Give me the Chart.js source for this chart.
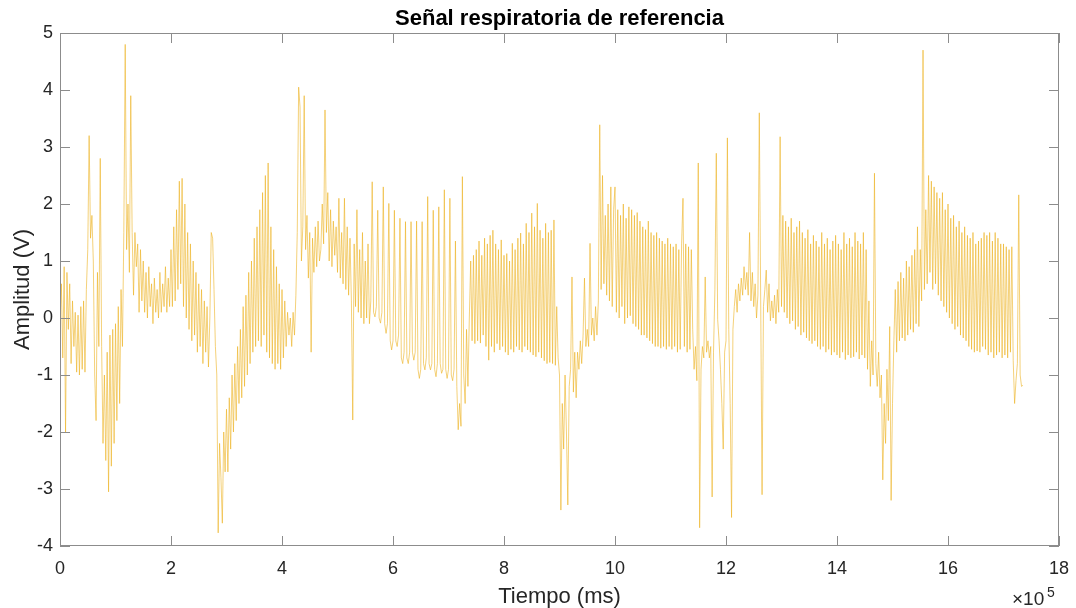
<!DOCTYPE html>
<html lang="es">
<head>
<meta charset="utf-8">
<title>Señal respiratoria de referencia</title>
<script src="https://cdn.jsdelivr.net/npm/chart.js@4.4.1/dist/chart.umd.min.js"></script>
<style>
  html, body { margin: 0; padding: 0; background: #ffffff; }
  canvas { display: block; }
</style>
</head>
<body>
<canvas id="senal" width="1076" height="608"></canvas>
<script>
// Periodo de muestreo de la señal (ms)
const periodoMuestreo = 2500;

// Amplitud (V), una fila = 20 muestras = 0.5 x 10^5 ms
const amplitud = [
  -0.1, 0.6, -0.7, 0.9, -2.0, 0.8, -0.2, 0.6, -0.8, 0.3, -0.5, 0.1, -0.95, 0.05, -1.0, 0.2, -0.9, 0.3, -0.95, 0.5,
  1.2, 3.2, 1.4, 1.8, 1.0, -1.0, -1.8, 0.8, -0.5, 2.8, -0.5, -2.2, -1.0, -2.5, -0.6, -3.05, -0.3, -2.6, -0.2, -2.2,
  -0.1, -1.8, 0.2, -1.5, 0.5, -0.5, 1.5, 4.8, 1.2, 2.0, 0.8, 3.9, 1.5, 0.4, 1.5, 0.9, 1.3, 0.1, 1.2, 0.3,
  1.0, 0.1, 0.8, 0.0, 0.9, 0.2, 0.6, -0.1, 0.7, 0.1, 0.5, 0.0, 0.8, 0.1, 0.6, 0.2, 0.9, 0.1, 0.7, 0.2,
  1.2, 0.2, 1.6, 0.3, 1.9, 0.5, 2.4, 0.6, 2.45, 0.2, 2.0, 0.0, 1.5, -0.2, 1.3, -0.4, 1.0, -0.3, 0.8, -0.6,
  0.6, -0.5, 0.5, -0.8, 0.3, -0.6, 0.2, -0.86, 0.0, 1.5, 1.4, 0.5, -0.5, -1.0, -3.77, -2.2, -2.8, -3.6, -2.0, -2.7,
  -1.6, -2.7, -1.4, -2.3, -1.0, -2.0, -0.8, -1.8, -0.5, -1.5, -0.2, -1.4, 0.2, -1.2, 0.4, -1.0, 0.8, -0.8, 1.0, -0.6,
  1.4, -0.5, 1.6, -0.4, 1.9, -0.5, 2.2, -0.3, 2.5, -0.6, 2.72, -0.7, 1.6, -0.8, 1.2, -0.9, 0.9, -0.8, 0.6, -0.9,
  0.5, -0.7, 0.3, -0.5, 0.1, -0.3, 0.0, -0.5, 0.1, -0.3, 0.4, 1.5, 4.05, 3.7, 1.0, 1.6, 3.9, 1.2, 1.8, 0.7,
  1.5, -0.6, 1.4, 0.8, 1.6, 0.9, 1.7, 1.0, 1.2, 2.0, 1.3, 3.65, 1.5, 2.2, 1.0, 1.9, 0.9, 1.7, 1.1, 1.6,
  0.8, 2.1, 0.7, 1.5, 0.6, 2.1, 0.5, 1.6, 0.4, 1.4, 0.3, -1.79, 1.3, 0.2, 1.9, 0.1, 1.2, 0.0, 1.5, -0.1,
  1.0, 0.0, 1.3, -0.1, 0.3, 2.39, 0.1, 0.02, 0.2, 1.89, 0.0, -0.09, 0.1, 2.30, -0.1, -0.27, -0.1, 2.01, -0.4, -0.56,
  -0.4, 1.89, -0.4, -0.50, -0.3, 1.75, -0.7, -0.80, -0.6, 1.69, -0.7, -0.80, -0.6, 1.69, -0.6, -0.74, -0.6, 1.70, -0.9, -1.06,
  -0.9, 1.69, -0.8, -0.91, -0.7, 2.13, -0.8, -0.91, -0.8, 1.89, -0.9, -1.03, -0.8, 1.95, -0.8, -0.97, -0.9, 2.25, -0.9, -1.06,
  -0.9, 2.1, -1.0, -1.1, -0.9, 1.35, -1.2, -1.96, -1.5, -1.9, 2.48, -1.0, -1.5, -0.2, -1.2, 0.0, 1.0, -0.4, 1.1, -0.45,
  1.2, -0.4, 1.35, -0.44, 1.1, -0.3, 1.4, -0.5, 1.3, -0.74, 1.45, -0.5, 1.54, -0.6, 1.3, -0.45, 1.2, -0.56, 1.37, -0.5,
  1.1, -0.6, 1.13, -0.65, 1.0, -0.55, 1.31, -0.6, 1.2, -0.5, 1.4, -0.56, 1.49, -0.6, 1.3, -0.5, 1.66, -0.56, 1.5, -0.6,
  1.84, -0.65, 1.6, -0.68, 2.01, -0.6, 1.54, -0.7, 1.4, -0.75, 1.66, -0.8, 1.5, -0.78, 1.54, -0.8, 1.72, -0.83, 0.2, -0.7,
  -1.0, -3.37, -1.5, -2.3, -1.0, -2.0, -3.28, -1.2, -0.9, 0.72, -1.3, -0.6, -1.4, -0.6, -0.9, -0.4, -0.8, -0.3, 0.7, -0.5,
  -0.2, -0.5, 1.31, -0.3, 0.0, -0.4, 0.2, -0.3, 0.3, 3.39, 0.5, 2.5, 0.6, 1.8, 0.4, 2.0, 0.3, 2.3, 0.2, 1.9,
  2.3, 0.1, 1.9, 0.0, 1.8, 0.2, 2.0, -0.1, 1.75, 0.0, 1.95, 0.04, 1.9, -0.1, 1.8, -0.15, 1.85, -0.2, 1.7, -0.3,
  1.6, -0.3, 1.55, -0.35, 1.7, -0.4, 1.5, -0.45, 1.45, -0.5, 1.5, -0.5, 1.4, -0.53, 1.35, -0.5, 1.3, -0.55, 1.4, -0.5,
  1.3, -0.55, 1.25, -0.5, 1.3, -0.6, 1.2, -0.55, 1.3, 2.1, -0.5, 1.3, -0.6, 1.25, -0.55, 1.2, -0.2, -0.9, -0.5, -1.1,
  2.72, -3.68, -0.9, -0.5, -0.7, 0.72, -0.6, -0.4, -0.7, -0.5, -3.14, -0.6, 0.5, 2.89, -0.03, -0.4, -0.9, -1.5, -2.3, -0.6,
  -0.4, 3.16, -0.2, -1.5, -3.5, -0.2, 0.2, 0.5, 0.1, 0.6, 0.3, 0.7, 0.4, 0.9, 0.5, 0.8, 0.4, 1.5, 0.3, 0.8,
  0.2, 0.6, 0.0, 0.4, 3.6, 0.3, -3.1, 0.2, 0.5, 0.84, 0.1, 0.6, -0.05, 0.3, 0.0, 0.4, -0.1, 0.5, 0.1, 3.18,
  0.2, 1.8, 0.1, 1.7, 0.0, 1.6, -0.1, 1.75, -0.05, 1.5, -0.2, 1.6, -0.15, 1.7, -0.3, 1.5, -0.25, 1.4, -0.35, 1.55,
  -0.4, 1.3, -0.45, 1.45, -0.4, 1.35, -0.5, 1.25, -0.55, 1.5, -0.5, 1.3, -0.6, 1.4, -0.55, 1.2, -0.65, 1.35, -0.6, 1.45,
  -0.65, 1.3, -0.7, 1.2, -0.6, 1.5, -0.73, 1.3, -0.65, 1.4, -0.7, 1.25, -0.68, 1.5, -0.6, 1.35, -0.72, 1.3, -0.65, 1.5,
  -0.7, 1.2, -0.9, 0.3, -1.2, -0.4, -1.0, 2.54, -0.8, -1.2, -0.6, -1.4, -1.0, -2.84, -1.5, -2.2, -0.9, -1.8, -0.15, -3.2,
  -1.5, -0.4, 0.5, -0.6, 0.64, -0.4, 0.8, -0.35, 0.7, -0.4, 1.0, -0.3, 0.9, -0.2, 1.1, -0.25, 1.2, -0.1, 1.6, -0.15,
  1.2, 0.3, 4.70, 0.5, 1.9, 0.6, 2.5, 0.8, 2.4, 0.5, 2.3, 0.6, 2.2, 0.4, 2.1, 0.3, 2.2, 0.2, 1.9, 0.1,
  2.0, 0.0, 1.75, -0.1, 1.8, -0.2, 1.6, -0.15, 1.7, -0.3, 1.5, -0.35, 1.6, -0.4, 1.45, -0.5, 1.4, -0.55, 1.5, -0.6,
  1.3, -0.58, 1.35, -0.6, 1.4, -0.5, 1.5, -0.55, 1.45, -0.65, 1.5, -0.6, 1.35, -0.7, 1.5, -0.65, 1.4, -0.6, 1.3, -0.7,
  1.3, -0.65, 1.25, -0.7, 1.2, -0.6, 1.25, -0.75, -1.5, -1.1, -0.8, 2.16, -1.0, -1.2, -1.18
];

// Marcas de los ejes
const ticksX = [0, 200000, 400000, 600000, 800000, 1000000, 1200000, 1400000, 1600000, 1800000];
const ticksY = [-4, -3, -2, -1, 0, 1, 2, 3, 4, 5];

const titulo = 'Señal respiratoria de referencia';
const etiquetaX = 'Tiempo (ms)';
const etiquetaY = 'Amplitud (V)';

const colorSenal = '#EDB120';
const colorTexto = '#262626';
const colorEje = '#8c8c8c';
const fuente = 'Arial, "Liberation Sans", Helvetica, sans-serif';

const puntos = amplitud.map((v, i) => ({ x: i * periodoMuestreo, y: v }));

// Caja, marcas hacia dentro, título y etiquetas de los ejes
const marcoEjes = {
    id: 'marcoEjes',
    afterDraw(chart) {
        const { ctx, chartArea: a, scales } = chart;
        const largo = 10;
        ctx.save();
        ctx.strokeStyle = colorEje;
        ctx.lineWidth = 1;
        ctx.strokeRect(a.left + 0.5, a.top + 0.5, a.right - a.left - 1, a.bottom - a.top - 1);

        ctx.beginPath();
        ticksX.forEach(t => {
            const x = Math.round(scales.x.getPixelForValue(t)) + 0.5;
            ctx.moveTo(x, a.bottom);
            ctx.lineTo(x, a.bottom - largo);
            ctx.moveTo(x, a.top);
            ctx.lineTo(x, a.top + largo);
        });
        ticksY.forEach(t => {
            const y = Math.round(scales.y.getPixelForValue(t)) + 0.5;
            ctx.moveTo(a.left, y);
            ctx.lineTo(a.left + largo, y);
            ctx.moveTo(a.right, y);
            ctx.lineTo(a.right - largo, y);
        });
        ctx.stroke();

        const cx = (a.left + a.right) / 2;
        const cy = (a.top + a.bottom) / 2;
        ctx.fillStyle = '#000000';
        ctx.textAlign = 'center';
        ctx.textBaseline = 'alphabetic';
        ctx.font = 'bold 22px ' + fuente;
        ctx.fillText(titulo, cx, 25);

        ctx.fillStyle = colorTexto;
        ctx.font = '22px ' + fuente;
        ctx.fillText(etiquetaX, cx, 603);

        ctx.save();
        ctx.translate(29, cy);
        ctx.rotate(-Math.PI / 2);
        ctx.fillText(etiquetaY, 0, 0);
        ctx.restore();

        // Factor de escala del eje X
        ctx.textAlign = 'left';
        ctx.font = '19px ' + fuente;
        ctx.fillText('\u00d710', 1012, 605);
        ctx.font = '14px ' + fuente;
        ctx.fillText('5', 1047, 597);
        ctx.restore();
    }
};

new Chart(document.getElementById('senal'), {
    type: 'line',
    data: {
        datasets: [{
            data: puntos,
            borderColor: colorSenal,
            borderWidth: 0.6,
            pointRadius: 0,
            tension: 0,
            fill: false
        }]
    },
    options: {
        responsive: false,
        animation: false,
        events: [],
        layout: { padding: { left: 0, right: 17, top: 33, bottom: 0 } },
        plugins: {
            legend: { display: false },
            tooltip: { enabled: false }
        },
        scales: {
            x: {
                type: 'linear',
                min: 0,
                max: 1800000,
                afterFit: s => {
                    s.height = 62;
                    s.paddingLeft = 0;
                    s.paddingRight = 0;
                },
                afterBuildTicks: s => { s.ticks = ticksX.map(v => ({ value: v })); },
                grid: { display: false, drawTicks: false },
                border: { display: false },
                ticks: {
                    padding: 12,
                    maxRotation: 0,
                    autoSkip: false,
                    color: colorTexto,
                    font: { family: fuente, size: 18 },
                    callback: v => String(v / 100000)
                }
            },
            y: {
                type: 'linear',
                min: -4,
                max: 5,
                afterFit: s => {
                    s.width = 60;
                    s.paddingTop = 0;
                    s.paddingBottom = 0;
                },
                afterBuildTicks: s => { s.ticks = ticksY.map(v => ({ value: v })); },
                grid: { display: false, drawTicks: false },
                border: { display: false },
                ticks: {
                    padding: 7,
                    color: colorTexto,
                    font: { family: fuente, size: 18 }
                }
            }
        }
    },
    plugins: [marcoEjes]
});
</script>
</body>
</html>
